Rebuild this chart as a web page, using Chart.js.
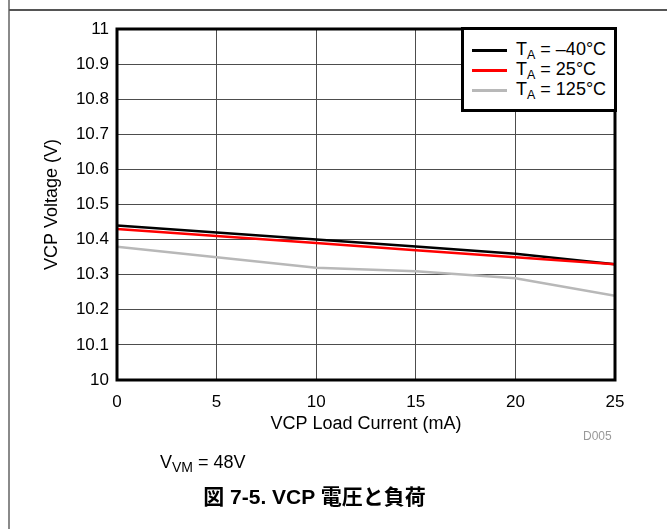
<!DOCTYPE html>
<html>
<head>
<meta charset="utf-8">
<script src="https://cdn.jsdelivr.net/npm/chart.js@4.4.1/dist/chart.umd.min.js"></script>
<style>
  html, body { margin: 0; padding: 0; background: #fff; }
  #wrap { position: relative; width: 667px; height: 529px; overflow: hidden;
          font-family: "Liberation Sans", Arial, sans-serif; color: #000; }
  #chart { position: absolute; left: 0; top: 0; }
  .frame-v { position: absolute; left: 8px; top: 0; width: 2px; height: 529px; background: #8a8a8a; }
  .frame-h { position: absolute; left: 9px; top: 9px; width: 658px; height: 2px; background: #555; }
  #legend { position: absolute; left: 461px; top: 27px; width: 156px; height: 85px;
            box-sizing: border-box; border: 3px solid #000; background: #fff; }
  .lg-line { position: absolute; left: 472px; width: 35px; height: 3px; }
  .lg-text { position: absolute; left: 516px; font-size: 18px; line-height: 18px; white-space: nowrap; }
  .lg-text sub { font-size: 12.5px; vertical-align: -4px; line-height: 0; }
  .note sub { font-size: 14px; vertical-align: -4px; line-height: 0; }
  .note { position: absolute; left: 160px; top: 452.8px; font-size: 18px; line-height: 18px; white-space: nowrap; }
  .code { position: absolute; left: 583px; top: 430px; font-size: 12px; line-height: 12px; color: #999; }
  .caption { position: absolute; left: 0; width: 629px; top: 485.7px; text-align: center;
             font-family: "Liberation Sans", Arial, "Noto Sans CJK JP", sans-serif;
             font-weight: bold; font-size: 21px; line-height: 21px; white-space: nowrap; }
</style>
</head>
<body>
<div id="wrap">
  <canvas id="chart" width="667" height="529"></canvas>
  <div class="frame-v"></div>
  <div class="frame-h"></div>
  <div id="legend"></div>
  <div class="code">D005</div>
  <div class="note">V<sub>VM</sub> = 48V</div>
  <div class="caption">図 7-5. VCP 電圧と負荷</div>
</div>
<script>
// Load current (mA) on the x axis
const loadCurrent = [0, 5, 10, 15, 20, 25];

// VCP voltage (V) at each ambient temperature
const vcpMinus40C = [10.44, 10.42, 10.40, 10.38, 10.36, 10.33];
const vcp25C      = [10.43, 10.41, 10.39, 10.37, 10.35, 10.33];
const vcp125C     = [10.38, 10.35, 10.32, 10.31, 10.29, 10.24];

// Temperature labels for the legend
const tempLabels = ['\u201340\u00B0C', '25\u00B0C', '125\u00B0C'];
const lineColors = ['#000000', '#ff0000', '#b8b8b8'];

// Axis tick values
const xTickValues = [0, 5, 10, 15, 20, 25];
const yTickValues = [10, 10.1, 10.2, 10.3, 10.4, 10.5, 10.6, 10.7, 10.8, 10.9, 11];

const seriesValues = [vcpMinus40C, vcp25C, vcp125C];

const datasets = seriesValues.map((vals, i) => ({
  label: 'TA = ' + tempLabels[i],
  data: loadCurrent.map((x, j) => ({ x: x, y: vals[j] })),
  borderColor: lineColors[i],
  backgroundColor: lineColors[i],
  borderWidth: 2.5,
  pointRadius: 0,
  tension: 0,
  fill: false
}));
// draw the gray series first so black/red sit on top
datasets.reverse();

// Legend with subscripted T_A
const legendTops = [39.8, 59.8, 79.8];
const lineTops = [49, 69, 89];
const wrap = document.getElementById('wrap');
tempLabels.forEach((t, i) => {
  const ln = document.createElement('div');
  ln.className = 'lg-line';
  ln.style.top = lineTops[i] + 'px';
  ln.style.background = lineColors[i];
  wrap.appendChild(ln);
  const tx = document.createElement('div');
  tx.className = 'lg-text';
  tx.style.top = legendTops[i] + 'px';
  tx.innerHTML = 'T<sub>A</sub> = ' + t;
  wrap.appendChild(tx);
});

const FONT = '"Liberation Sans", Arial, sans-serif';

// Heavy frame around the plot area
const plotFrame = {
  id: 'plotFrame',
  afterDatasetsDraw(chart) {
    const { ctx, chartArea: a } = chart;
    ctx.save();
    ctx.strokeStyle = '#000';
    ctx.lineWidth = 3;
    ctx.strokeRect(a.left, a.top, a.right - a.left, a.bottom - a.top);
    ctx.restore();
  }
};

new Chart(document.getElementById('chart'), {
  type: 'line',
  data: { datasets: datasets },
  plugins: [plotFrame],
  options: {
    responsive: false,
    animation: false,
    devicePixelRatio: 1,
    layout: { padding: { left: 8, top: 29, right: 52, bottom: 89 } },
    plugins: { legend: { display: false }, tooltip: { enabled: false } },
    scales: {
      x: {
        type: 'linear',
        min: 0,
        max: 25,
        afterBuildTicks: s => { s.ticks = xTickValues.map(v => ({ value: v })); },
        afterFit: s => { s.height = 60; },
        grid: { color: '#4d4d4d', lineWidth: 1, drawTicks: false },
        border: { display: false },
        ticks: { color: '#000', padding: 12, font: { family: FONT, size: 17 }, maxRotation: 0 },
        title: { display: true, text: 'VCP Load Current (mA)', color: '#000',
                 font: { family: FONT, size: 18 }, padding: { top: 0, bottom: 5 } }
      },
      y: {
        type: 'linear',
        min: 10,
        max: 11,
        afterBuildTicks: s => { s.ticks = yTickValues.map(v => ({ value: v })); },
        afterFit: s => { s.width = 109; },
        grid: { color: '#4d4d4d', lineWidth: 1, drawTicks: false },
        border: { display: false },
        ticks: { color: '#000', padding: 8, font: { family: FONT, size: 17 },
                 callback: v => String(parseFloat(Number(v).toFixed(1))) },
        title: { display: true, text: 'VCP Voltage (V)', color: '#000',
                 font: { family: FONT, size: 18 }, padding: { top: 33, bottom: 0 } }
      }
    }
  }
});
</script>
</body>
</html>
